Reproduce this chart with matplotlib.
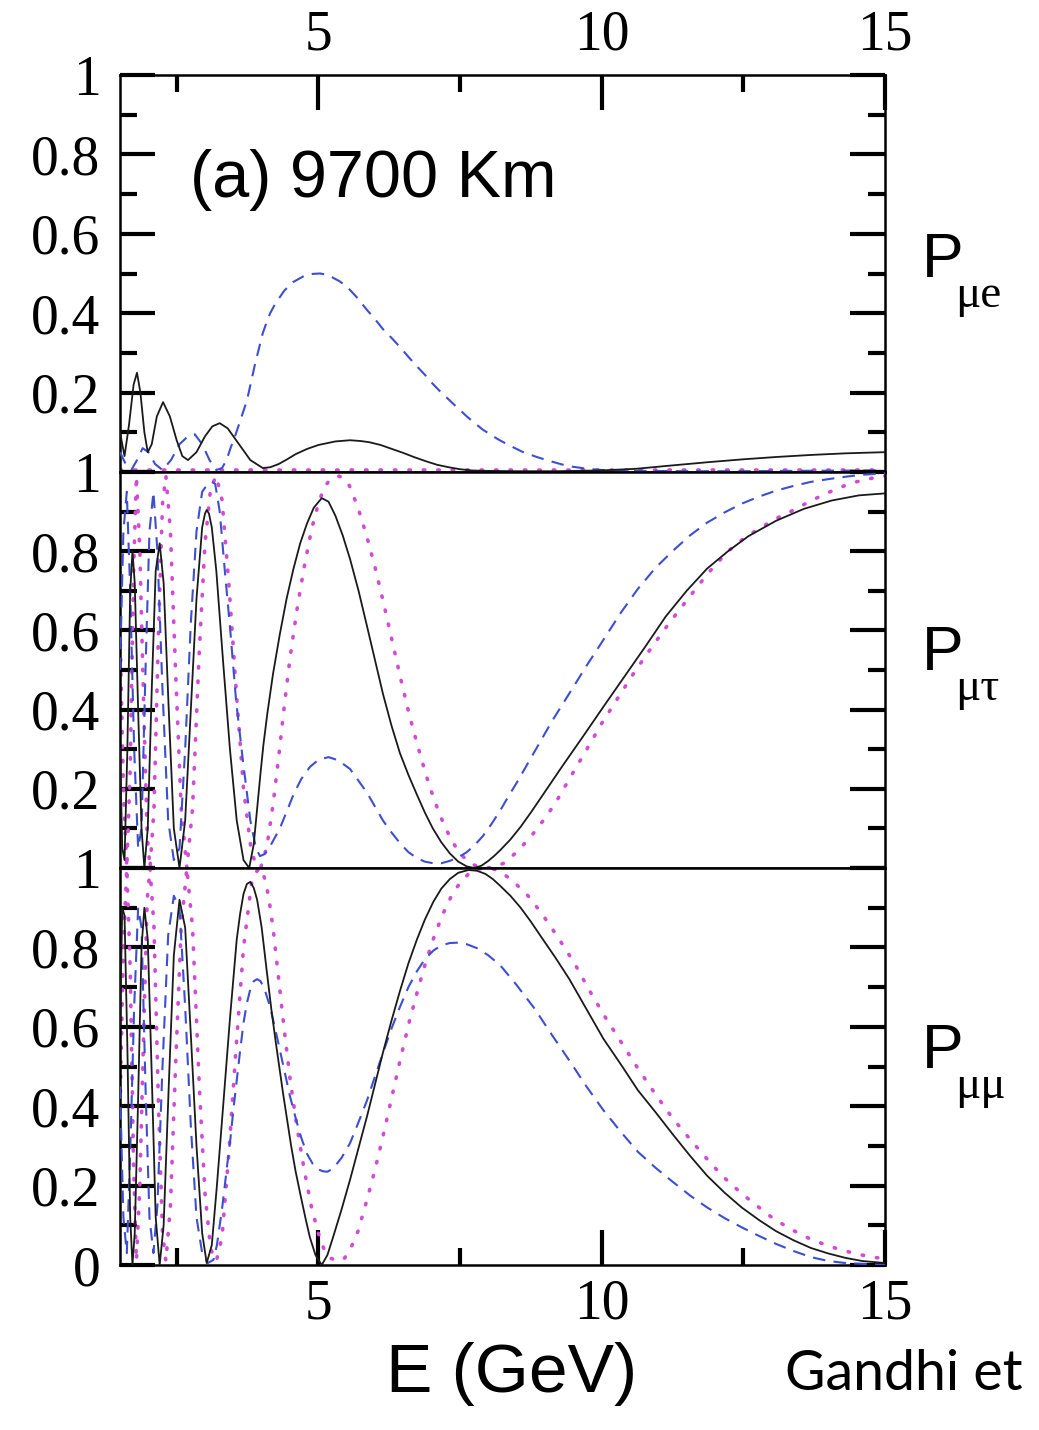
import matplotlib.pyplot as plt
from matplotlib.ticker import FixedLocator, FixedFormatter

# ---- P_mu e (top panel) ----
e_mue_black = [1.50, 1.58, 1.66, 1.74, 1.80, 1.86, 1.93, 1.99, 2.06, 2.15, 2.26, 2.38, 2.50, 2.60,
               2.70, 2.85, 3.00, 3.13, 3.26, 3.40, 3.60, 3.80, 4.02, 4.15, 4.30, 4.45, 4.60, 4.80,
               5.00, 5.30, 5.56, 5.75, 5.90, 6.10, 6.30, 6.50, 6.70, 6.90, 7.10, 7.30, 7.50, 7.70,
               7.90, 8.50, 9.20, 10.0, 10.6, 11.2, 11.9, 12.5, 13.1, 13.7, 14.3, 15.0]
p_mue_black = [0.10, 0.04, 0.12, 0.22, 0.25, 0.20, 0.10, 0.05, 0.07, 0.14, 0.176, 0.14, 0.08, 0.04,
               0.03, 0.05, 0.09, 0.115, 0.123, 0.11, 0.07, 0.03, 0.01, 0.012, 0.02, 0.032, 0.045, 0.058,
               0.068, 0.077, 0.08, 0.078, 0.075, 0.068, 0.058, 0.048, 0.037, 0.027, 0.018, 0.012, 0.007, 0.004,
               0.003, 0.002, 0.002, 0.004, 0.008, 0.016, 0.025, 0.032, 0.038, 0.043, 0.047, 0.05]
e_mue_blue = [1.50, 1.60, 1.70, 1.80, 1.90, 2.00, 2.12, 2.25, 2.40, 2.55, 2.70, 2.82, 2.95, 3.08,
              3.20, 3.30, 3.38, 3.45, 3.53, 3.60, 3.67, 3.74, 3.81, 3.88, 3.95, 4.02, 4.09, 4.15,
              4.21, 4.27, 4.40, 4.55, 4.75, 4.90, 5.03, 5.15, 5.25, 5.38, 5.51, 5.68, 5.86, 6.00,
              6.14, 6.29, 6.44, 6.59, 6.74, 6.88, 7.02, 7.17, 7.32, 7.47, 7.62, 7.76, 7.90, 8.05,
              8.20, 8.40, 8.60, 8.85, 9.10, 9.30, 9.50, 9.75, 10.0, 10.5, 11.5, 12.5, 13.5, 15.0]
p_mue_blue = [0.05, 0.02, 0.005, 0.03, 0.06, 0.05, 0.02, 0.005, 0.03, 0.07, 0.09, 0.095, 0.07, 0.03,
              0.005, 0.01, 0.03, 0.06, 0.09, 0.12, 0.15, 0.18, 0.225, 0.27, 0.31, 0.35, 0.378, 0.40,
              0.416, 0.43, 0.457, 0.478, 0.494, 0.499, 0.50, 0.497, 0.49, 0.48, 0.466, 0.44, 0.408, 0.385,
              0.36, 0.338, 0.315, 0.29, 0.266, 0.245, 0.222, 0.20, 0.18, 0.16, 0.14, 0.123, 0.107, 0.093,
              0.08, 0.065, 0.051, 0.038, 0.027, 0.019, 0.013, 0.008, 0.005, 0.003, 0.002, 0.002, 0.003, 0.004]
e_mue_pink = [1.5, 3.0, 6.0, 9.0, 12.0, 15.0]
p_mue_pink = [0.004, 0.004, 0.004, 0.004, 0.004, 0.004]

# ---- P_mu tau (middle panel) ----
e_mut_black = [1.50, 1.54, 1.58, 1.63, 1.68, 1.72, 1.76, 1.82, 1.88, 1.93, 1.99, 2.06, 2.13, 2.20,
               2.27, 2.36, 2.45, 2.55, 2.65, 2.75, 2.85, 2.95, 3.00, 3.03, 3.07, 3.12, 3.20, 3.32,
               3.44, 3.56, 3.68, 3.78, 3.86, 3.92, 3.98, 4.03, 4.10, 4.20, 4.32, 4.44, 4.56, 4.68,
               4.80, 4.92, 5.06, 5.18, 5.30, 5.43, 5.56, 5.71, 5.86, 6.00, 6.14, 6.29, 6.44, 6.59,
               6.74, 6.88, 7.02, 7.17, 7.32, 7.47, 7.62, 7.75, 7.88, 8.00, 8.10, 8.21, 8.39, 8.57,
               8.75, 8.94, 9.30, 9.67, 10.03, 10.40, 10.77, 11.13, 11.50, 11.86, 12.23, 12.59, 13.08, 13.57,
               14.06, 14.54, 15.00]
p_mut_black = [0.30, 0.05, 0.02, 0.30, 0.70, 0.80, 0.72, 0.40, 0.10, 0.00, 0.10, 0.45, 0.75, 0.82,
               0.72, 0.40, 0.10, 0.00, 0.12, 0.40, 0.68, 0.86, 0.895, 0.904, 0.895, 0.86, 0.75, 0.52,
               0.30, 0.12, 0.02, 0.00, 0.06, 0.15, 0.24, 0.31, 0.39, 0.49, 0.59, 0.68, 0.755, 0.82,
               0.87, 0.91, 0.934, 0.925, 0.89, 0.84, 0.78, 0.70, 0.61, 0.525, 0.44, 0.36, 0.29, 0.235,
               0.185, 0.14, 0.10, 0.065, 0.037, 0.016, 0.004, 0.00, 0.006, 0.018, 0.03, 0.045, 0.072, 0.104,
               0.14, 0.18, 0.256, 0.332, 0.407, 0.483, 0.559, 0.635, 0.70, 0.756, 0.80, 0.838, 0.877, 0.907,
               0.928, 0.941, 0.946]
e_mut_blue = [1.50, 1.56, 1.62, 1.68, 1.75, 1.82, 1.88, 1.95, 2.02, 2.09, 2.16, 2.25, 2.35, 2.45,
              2.55, 2.65, 2.75, 2.85, 2.95, 3.05, 3.12, 3.18, 3.26, 3.35, 3.44, 3.55, 3.67, 3.80,
              3.90, 3.97, 4.05, 4.15, 4.32, 4.45, 4.56, 4.70, 4.85, 5.00, 5.18, 5.35, 5.56, 5.71,
              5.86, 6.00, 6.14, 6.29, 6.44, 6.59, 6.74, 6.88, 7.03, 7.17, 7.32, 7.47, 7.62, 7.76,
              7.90, 8.05, 8.21, 8.35, 8.50, 8.66, 8.82, 9.12, 9.43, 9.73, 10.03, 10.34, 10.64, 10.95,
              11.25, 11.56, 11.86, 12.17, 12.47, 12.78, 13.08, 13.39, 13.69, 14.00, 14.30, 14.60, 15.00]
p_mut_blue = [0.50, 0.85, 0.95, 0.70, 0.30, 0.05, 0.10, 0.50, 0.85, 0.95, 0.80, 0.45, 0.12, 0.02,
              0.05, 0.30, 0.62, 0.85, 0.95, 0.97, 0.975, 0.97, 0.90, 0.75, 0.61, 0.42, 0.27, 0.12,
              0.05, 0.03, 0.035, 0.055, 0.10, 0.145, 0.185, 0.225, 0.255, 0.273, 0.28, 0.272, 0.25, 0.22,
              0.19, 0.155, 0.12, 0.09, 0.063, 0.04, 0.025, 0.016, 0.012, 0.012, 0.018, 0.027, 0.04, 0.058,
              0.08, 0.11, 0.145, 0.18, 0.215, 0.255, 0.295, 0.37, 0.441, 0.51, 0.576, 0.645, 0.705, 0.758,
              0.80, 0.84, 0.872, 0.898, 0.92, 0.938, 0.953, 0.965, 0.975, 0.982, 0.988, 0.993, 0.997]
e_mut_pink = [1.50, 1.56, 1.62, 1.68, 1.74, 1.79, 1.85, 1.92, 1.98, 2.03, 2.10, 2.18, 2.25, 2.31,
              2.39, 2.48, 2.58, 2.68, 2.78, 2.90, 3.00, 3.10, 3.20, 3.30, 3.42, 3.55, 3.68, 3.82,
              3.90, 3.98, 4.05, 4.12, 4.20, 4.30, 4.40, 4.50, 4.62, 4.75, 4.88, 5.00, 5.10, 5.20,
              5.35, 5.45, 5.55, 5.70, 5.85, 6.00, 6.15, 6.30, 6.45, 6.60, 6.75, 6.90, 7.05, 7.20,
              7.35, 7.50, 7.65, 7.80, 7.95, 8.10, 8.27, 8.50, 8.75, 8.97, 9.18, 9.45, 9.73, 10.00,
              10.28, 10.58, 10.89, 11.20, 11.53, 11.88, 12.23, 12.53, 12.84, 13.10, 13.39, 13.70, 14.06, 14.40,
              14.79, 15.00]
p_mut_pink = [0.60, 0.20, 0.00, 0.25, 0.75, 0.99, 0.80, 0.40, 0.08, 0.00, 0.15, 0.60, 0.92, 0.99,
              0.85, 0.50, 0.15, 0.00, 0.15, 0.55, 0.82, 0.96, 0.99, 0.93, 0.72, 0.45, 0.20, 0.04,
              0.01, 0.00, 0.03, 0.08, 0.16, 0.28, 0.41, 0.53, 0.65, 0.76, 0.855, 0.92, 0.96, 0.98,
              0.99, 0.985, 0.965, 0.91, 0.84, 0.76, 0.67, 0.575, 0.48, 0.39, 0.31, 0.235, 0.17, 0.115,
              0.07, 0.037, 0.015, 0.004, 0.00, 0.002, 0.012, 0.04, 0.079, 0.12, 0.163, 0.23, 0.298, 0.365,
              0.428, 0.495, 0.559, 0.62, 0.681, 0.745, 0.80, 0.835, 0.862, 0.884, 0.904, 0.928, 0.952, 0.972,
              0.985, 0.99]

# ---- P_mu mu (bottom panel) ----
e_mum_black = [1.50, 1.54, 1.58, 1.63, 1.68, 1.72, 1.76, 1.82, 1.88, 1.93, 1.99, 2.06, 2.13, 2.20,
               2.27, 2.36, 2.45, 2.55, 2.65, 2.75, 2.85, 2.95, 3.03, 3.12, 3.21, 3.32, 3.44, 3.56,
               3.62, 3.68, 3.74, 3.80, 3.86, 3.92, 4.00, 4.09, 4.17, 4.25, 4.38, 4.52, 4.60, 4.68,
               4.77, 4.85, 4.95, 5.06, 5.16, 5.26, 5.41, 5.56, 5.71, 5.86, 6.00, 6.14, 6.29, 6.44,
               6.59, 6.74, 6.88, 7.03, 7.17, 7.32, 7.47, 7.65, 7.80, 7.95, 8.08, 8.21, 8.39, 8.57,
               8.75, 8.94, 9.18, 9.43, 9.73, 10.03, 10.34, 10.64, 10.95, 11.25, 11.56, 11.86, 12.17, 12.47,
               12.78, 13.08, 13.39, 13.69, 14.00, 14.30, 14.60, 15.00]
p_mum_black = [0.60, 0.90, 0.88, 0.55, 0.12, 0.00, 0.08, 0.42, 0.80, 0.90, 0.82, 0.48, 0.12, 0.00,
               0.10, 0.45, 0.78, 0.92, 0.85, 0.58, 0.30, 0.08, 0.005, 0.05, 0.20, 0.40, 0.62, 0.82,
               0.885, 0.935, 0.96, 0.965, 0.95, 0.92, 0.85, 0.74, 0.645, 0.56, 0.43, 0.30, 0.235, 0.18,
               0.12, 0.07, 0.025, 0.00, 0.025, 0.07, 0.14, 0.215, 0.295, 0.375, 0.455, 0.535, 0.615, 0.69,
               0.76, 0.82, 0.87, 0.915, 0.948, 0.972, 0.988, 0.995, 0.993, 0.985, 0.972, 0.955, 0.93, 0.90,
               0.865, 0.825, 0.775, 0.72, 0.645, 0.57, 0.505, 0.44, 0.385, 0.33, 0.275, 0.225, 0.182, 0.145,
               0.113, 0.085, 0.062, 0.043, 0.029, 0.018, 0.01, 0.005]
e_mum_blue = [1.50, 1.56, 1.62, 1.68, 1.75, 1.82, 1.88, 1.95, 2.02, 2.09, 2.16, 2.25, 2.35, 2.45,
              2.55, 2.65, 2.75, 2.85, 2.95, 3.05, 3.15, 3.21, 3.30, 3.39, 3.45, 3.50, 3.56, 3.62,
              3.68, 3.74, 3.80, 3.86, 3.92, 3.98, 4.05, 4.15, 4.27, 4.40, 4.50, 4.60, 4.70, 4.80,
              4.90, 5.00, 5.08, 5.16, 5.26, 5.41, 5.56, 5.71, 5.86, 6.00, 6.14, 6.29, 6.44, 6.59,
              6.74, 6.88, 7.03, 7.17, 7.32, 7.47, 7.62, 7.80, 8.00, 8.21, 8.50, 8.82, 9.12, 9.43,
              9.73, 10.03, 10.34, 10.64, 10.95, 11.25, 11.56, 11.86, 12.17, 12.47, 12.78, 13.08, 13.39, 13.69,
              14.00, 14.30, 15.00]
p_mum_blue = [0.45, 0.12, 0.03, 0.28, 0.65, 0.90, 0.85, 0.45, 0.12, 0.03, 0.15, 0.50, 0.83, 0.93,
              0.90, 0.65, 0.35, 0.12, 0.03, 0.005, 0.013, 0.05, 0.14, 0.25, 0.32, 0.39, 0.465, 0.54,
              0.61, 0.66, 0.695, 0.715, 0.72, 0.715, 0.695, 0.65, 0.575, 0.49, 0.425, 0.37, 0.32, 0.28,
              0.255, 0.241, 0.236, 0.235, 0.243, 0.27, 0.307, 0.36, 0.415, 0.475, 0.534, 0.595, 0.65, 0.70,
              0.74, 0.77, 0.792, 0.805, 0.811, 0.812, 0.808, 0.798, 0.78, 0.755, 0.705, 0.645, 0.58, 0.515,
              0.45, 0.39, 0.335, 0.285, 0.245, 0.21, 0.175, 0.145, 0.118, 0.095, 0.073, 0.053, 0.035, 0.02,
              0.01, 0.005, 0.0]
e_mum_pink = [1.50, 1.56, 1.62, 1.68, 1.74, 1.79, 1.85, 1.92, 1.98, 2.03, 2.10, 2.18, 2.25, 2.31,
              2.39, 2.48, 2.58, 2.68, 2.78, 2.90, 3.00, 3.10, 3.20, 3.30, 3.42, 3.55, 3.68, 3.82,
              3.90, 3.98, 4.05, 4.12, 4.20, 4.30, 4.40, 4.50, 4.62, 4.75, 4.88, 5.00, 5.10, 5.20,
              5.35, 5.45, 5.55, 5.70, 5.85, 6.00, 6.15, 6.30, 6.45, 6.60, 6.75, 6.90, 7.05, 7.20,
              7.35, 7.50, 7.65, 7.80, 7.95, 8.10, 8.27, 8.45, 8.70, 8.94, 9.23, 9.52, 9.79, 10.06,
              10.35, 10.64, 10.95, 11.25, 11.60, 11.95, 12.20, 12.47, 12.75, 13.02, 13.34, 13.66, 14.00, 14.33,
              14.66, 15.00]
p_mum_pink = [0.40, 0.80, 1.00, 0.75, 0.25, 0.01, 0.20, 0.60, 0.92, 1.00, 0.85, 0.40, 0.08, 0.01,
              0.15, 0.50, 0.85, 1.00, 0.85, 0.45, 0.18, 0.04, 0.01, 0.07, 0.28, 0.55, 0.80, 0.96,
              0.99, 1.00, 0.975, 0.93, 0.85, 0.72, 0.59, 0.47, 0.35, 0.24, 0.145, 0.08, 0.04, 0.018,
              0.01, 0.015, 0.035, 0.085, 0.16, 0.24, 0.33, 0.425, 0.52, 0.61, 0.69, 0.765, 0.83, 0.885,
              0.93, 0.963, 0.985, 0.997, 1.00, 0.997, 0.985, 0.965, 0.93, 0.886, 0.825, 0.76, 0.69, 0.625,
              0.56, 0.495, 0.43, 0.37, 0.31, 0.252, 0.215, 0.18, 0.148, 0.118, 0.09, 0.067, 0.048, 0.034,
              0.023, 0.015]

panels = [
    (e_mue_black, p_mue_black, e_mue_blue, p_mue_blue, e_mue_pink, p_mue_pink),
    (e_mut_black, p_mut_black, e_mut_blue, p_mut_blue, e_mut_pink, p_mut_pink),
    (e_mum_black, p_mum_black, e_mum_blue, p_mum_blue, e_mum_pink, p_mum_pink),
]

W, H = 1039, 1430
fig = plt.figure(figsize=(W / 100, H / 100), dpi=100)

left, right = 120, 885
tops = [75, 472, 868]
bottoms = [472, 868, 1265]

serif = 'Liberation Serif'
sans = 'Liberation Sans'

for i, (eb, pb, ed, pd_, ep, pp) in enumerate(panels):
    ax = fig.add_axes([left / W, 1 - bottoms[i] / H, (right - left) / W, (bottoms[i] - tops[i]) / H])
    ax.plot(ep, pp, color='#d24bd6', lw=2.6, linestyle=(0, (0.4, 3.6)), dash_capstyle='round', zorder=2)
    ax.plot(ed, pd_, color='#3d4fcf', lw=1.5, linestyle=(0, (6, 4)), zorder=3)
    ax.plot(eb, pb, color='#1a1a1a', lw=1.3, zorder=4)
    ax.set_xlim(1.5, 15)
    ax.set_ylim(0, 1)
    for s in ax.spines.values():
        s.set_linewidth(1.8)

    ax.yaxis.set_major_locator(FixedLocator([0, 0.2, 0.4, 0.6, 0.8, 1.0]))
    ax.yaxis.set_minor_locator(FixedLocator([0.1, 0.3, 0.5, 0.7, 0.9]))
    ylabels = ['0' if i == 2 else '', '0.2', '0.4', '0.6', '0.8', '1']
    ax.yaxis.set_major_formatter(FixedFormatter(ylabels))
    ax.xaxis.set_major_locator(FixedLocator([5, 10, 15]))
    ax.xaxis.set_minor_locator(FixedLocator([2.5, 7.5, 12.5]))
    ax.xaxis.set_major_formatter(FixedFormatter(['5', '10', '15']))

    ax.tick_params(axis='both', which='both', direction='in', width=3.0, colors='black')
    ax.tick_params(axis='both', which='major', length=25)
    ax.tick_params(axis='both', which='minor', length=12)
    ax.tick_params(axis='y', which='both', left=True, right=True, labelleft=True, labelright=False,
                   pad=14, labelsize=40)
    ax.tick_params(axis='x', which='both', top=(i == 0), bottom=(i == 2),
                   labeltop=(i == 0), labelbottom=(i == 2), labelsize=40, pad=10)
    for lab in ax.get_xticklabels() + ax.get_yticklabels():
        lab.set_fontfamily(serif)

# panel annotations
fig.text(190 / W, 1 - 197 / H, '(a) 9700 Km', family=sans, fontsize=48, ha='left', va='baseline')

subs = ['\u03bce', '\u03bc\u03c4', '\u03bc\u03bc']
p_base = [277, 670, 1068]
for sub, yb in zip(subs, p_base):
    fig.text(922 / W, 1 - yb / H, 'P', family=sans, fontsize=45, ha='left', va='baseline')
    fig.text(955 / W, 1 - (yb + 30) / H, sub, family=serif, fontsize=34, ha='left', va='baseline')

fig.text(512 / W, 1 - 1392 / H, 'E (GeV)', family=sans, fontsize=50, ha='center', va='baseline')
fig.text(785 / W, 1 - 1390 / H, 'Gandhi et', family='Lato', fontsize=40, ha='left', va='baseline')

fig.savefig('out.png', dpi=100)
